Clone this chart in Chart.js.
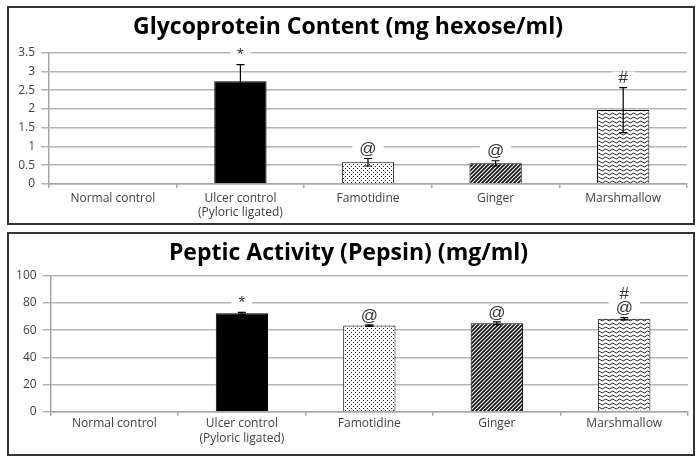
<!DOCTYPE html>
<html>
<head>
<meta charset="utf-8">
<script src="https://cdn.jsdelivr.net/npm/chart.js@4.4.1/dist/chart.umd.min.js"></script>
<style>
  body { margin: 0; background: #fff; width: 700px; height: 458px; position: relative; overflow: hidden; }
  .box { position: absolute; left: 7px; width: 684px; border: 2px solid #333; background: #fff; }
  #box1 { top: 6px; height: 215px; }
  #box2 { top: 232px; height: 220px; }
  canvas { display: block; }
</style>
</head>
<body>
<div class="box" id="box1"><canvas id="glyco" width="684" height="215"></canvas></div>
<div class="box" id="box2"><canvas id="pepsin" width="684" height="220"></canvas></div>
<script>
// categories shared by both panels
const categories = ['Normal control', ['Ulcer control', '(Pyloric ligated)'], 'Famotidine', 'Ginger', 'Marshmallow'];

// Glycoprotein content (mg hexose/ml)
const glycoValues = [null, 2.74, 0.58, 0.55, 1.97];
const glycoErrors = [null, 0.44, 0.10, 0.07, 0.60];
const glycoMarks = ['', '*', '@', '@', '#'];
const glycoTicks = [0, 0.5, 1, 1.5, 2, 2.5, 3, 3.5];

// Peptic activity (pepsin) (mg/ml)
const pepsinValues = [null, 72.3, 63.3, 65.0, 68.3];
const pepsinErrors = [null, 0.8, 0.5, 1.0, 0.8];
const pepsinMarks = ['', '*', '@', '@', '#\n@'];
const pepsinTicks = [0, 20, 40, 60, 80, 100];

// fill patterns
function makePattern(w, h, draw) {
    const c = document.createElement('canvas');
    c.width = w; c.height = h;
    const g = c.getContext('2d');
    g.fillStyle = '#fff';
    g.fillRect(0, 0, w, h);
    draw(g);
    return document.createElement('canvas').getContext('2d').createPattern(c, 'repeat');
}
const dots = makePattern(4, 4, g => {
    g.fillStyle = '#222';
    g.fillRect(0, 0, 1, 1);
    g.fillRect(2, 2, 1, 1);
});
const hatch = makePattern(4, 4, g => {
    g.strokeStyle = '#111';
    g.lineWidth = 1.7;
    g.beginPath();
    g.moveTo(-1, 5); g.lineTo(5, -1);
    g.moveTo(-1, 1); g.lineTo(1, -1);
    g.moveTo(3, 5); g.lineTo(5, 3);
    g.stroke();
});
const waves = makePattern(7, 4, g => {
    g.strokeStyle = '#222';
    g.lineWidth = 1;
    g.beginPath();
    g.moveTo(0, 2);
    g.quadraticCurveTo(1.75, 0, 3.5, 2);
    g.quadraticCurveTo(5.25, 4, 7, 2);
    g.stroke();
});
const fills = ['#fff', '#000', dots, hatch, waves];

// error bars + significance marks
const extras = {
    id: 'extras',
    afterDatasetsDraw(chart, args, opts) {
        const ctx = chart.ctx;
        const y = chart.scales.y;
        const bars = chart.getDatasetMeta(0).data;
        const vals = chart.data.datasets[0].data;
        ctx.save();
        bars.forEach((bar, i) => {
            if (vals[i] == null) return;
            const err = opts.errors[i];
            const top = y.getPixelForValue(vals[i] + err);
            const bot = y.getPixelForValue(vals[i] - err);
            ctx.strokeStyle = '#000';
            ctx.lineWidth = 1.2;
            ctx.beginPath();
            ctx.moveTo(bar.x, top); ctx.lineTo(bar.x, bot);
            ctx.moveTo(bar.x - 4, top); ctx.lineTo(bar.x + 4, top);
            ctx.moveTo(bar.x - 4, bot); ctx.lineTo(bar.x + 4, bot);
            ctx.stroke();

            const lines = opts.marks[i].split('\n');
            ctx.font = '17px "Liberation Sans"';
            ctx.textAlign = 'center';
            ctx.textBaseline = 'middle';
            lines.reverse().forEach((t, k) => {
                const cy = top - 10 - k * 14;
                const w = ctx.measureText(t).width + 14;
                ctx.fillStyle = '#fff';
                ctx.fillRect(bar.x - w / 2, cy - 6, w, 12);
                ctx.fillStyle = '#333';
                ctx.fillText(t, bar.x, cy + 1);
            });
        });
        ctx.restore();
    }
};

function panel(id, title, values, errors, marks, ticks, cfg) {
    new Chart(document.getElementById(id), {
        type: 'bar',
        data: {
            labels: categories,
            datasets: [{
                data: values,
                backgroundColor: fills,
                borderColor: '#000',
                borderWidth: 1,
                barPercentage: 0.41,
                categoryPercentage: 1
            }]
        },
        options: {
            responsive: false,
            animation: false,
            layout: { padding: { left: 0, right: cfg.right, top: 0, bottom: 0 } },
            plugins: {
                legend: { display: false },
                tooltip: { enabled: false },
                title: {
                    display: true,
                    text: title,
                    color: '#000',
                    font: { family: 'Open Sans', size: 23, weight: 'bold', lineHeight: 1.2 },
                    padding: { top: cfg.titleTop, bottom: cfg.titleBottom }
                },
                extras: { errors: errors, marks: marks }
            },
            scales: {
                x: {
                    grid: { drawOnChartArea: false, drawTicks: true, tickLength: 4, color: '#a6a6a6', lineWidth: 1.5 },
                    border: { color: '#a6a6a6', width: 1.5 },
                    ticks: { color: '#404040', font: { family: 'Open Sans', size: 12 }, padding: cfg.xPad, maxRotation: 0 },
                    afterFit: s => { s.height = cfg.xHeight; }
                },
                y: {
                    min: ticks[0],
                    max: ticks[ticks.length - 1],
                    afterBuildTicks: s => { s.ticks = ticks.map(v => ({ value: v })); },
                    grid: { color: '#b4b4b4', lineWidth: 1.5, tickLength: 8 },
                    border: { color: '#a6a6a6', width: 1.5 },
                    ticks: {
                        color: '#404040', font: { family: 'Open Sans', size: 12 }, padding: 6,
                        callback: v => String(v)
                    },
                    afterFit: s => { s.width = cfg.yWidth; }
                }
            }
        },
        plugins: [extras]
    });
}

panel('glyco', 'Glycoprotein Content (mg hexose/ml)', glycoValues, glycoErrors, glycoMarks, glycoTicks,
    { right: 6, titleTop: 6, titleBottom: 11.1, xPad: 3, xHeight: 39, yWidth: 40 });
panel('pepsin', 'Peptic Activity (Pepsin) (mg/ml)', pepsinValues, pepsinErrors, pepsinMarks, pepsinTicks,
    { right: 5, titleTop: 6, titleBottom: 8.1, xPad: 1, xHeight: 42.3, yWidth: 41.7 });
</script>
</body>
</html>
